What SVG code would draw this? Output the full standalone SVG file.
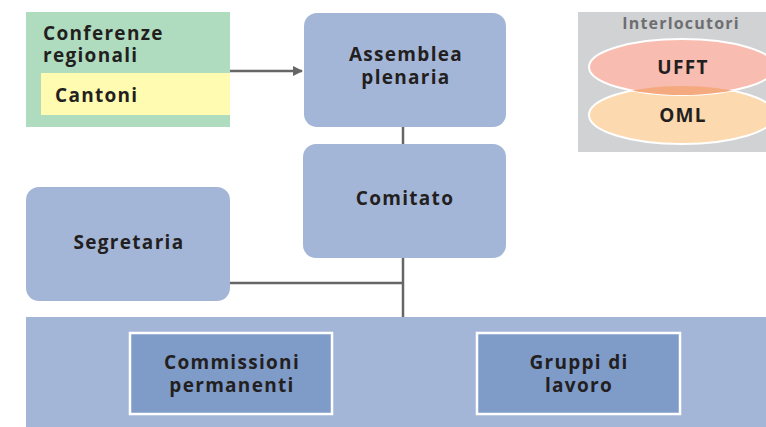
<svg xmlns="http://www.w3.org/2000/svg" width="766" height="427" viewBox="0 0 766 427">
<defs>
<style>
.t{font-family:"Open Sans","Noto Sans","DejaVu Sans",sans-serif;font-weight:bold;font-size:19px;letter-spacing:1.3px;fill:#231f20;}
.c{text-anchor:middle;}
.node{fill:#a4b6d7;}
.sub{fill:#7f9bc8;stroke:#ffffff;stroke-width:2.5;}
.ln{stroke:#666666;stroke-width:2.5;fill:none;}
</style>
<marker id="ah" markerWidth="10" markerHeight="10" refX="9" refY="5" orient="auto" markerUnits="userSpaceOnUse" viewBox="0 0 10 10">
<path d="M0,0 L10,5 L0,10 Z" fill="#666666"/>
</marker>
<clipPath id="omlclip"><ellipse cx="682" cy="115" rx="93" ry="29"/></clipPath>
</defs>
<rect width="766" height="427" fill="#ffffff"/>
<g id="connectors">
<line class="ln" x1="230" y1="71" x2="302" y2="71" marker-end="url(#ah)"/>
<line class="ln" x1="403" y1="127" x2="403" y2="144"/>
<line class="ln" x1="403" y1="258" x2="403" y2="318"/>
<line class="ln" x1="230" y1="283" x2="403" y2="283"/>
</g>
<g id="conferenze">
<rect x="26" y="12" width="204" height="115" fill="#afdbbf"/>
<text class="t" x="43" y="40">Conferenze</text>
<text class="t" x="43" y="62">regionali</text>
</g>
<g id="cantoni">
<rect x="41" y="73" width="189" height="42" fill="#fffbb0"/>
<text class="t" x="55" y="102">Cantoni</text>
</g>
<g id="assemblea">
<rect class="node" x="304" y="13" width="202" height="114" rx="13"/>
<text class="t c" x="406" y="61">Assemblea</text>
<text class="t c" x="406" y="84">plenaria</text>
</g>
<g id="comitato">
<rect class="node" x="303" y="144" width="203" height="114" rx="13"/>
<text class="t c" x="405" y="205">Comitato</text>
</g>
<g id="segretaria">
<rect class="node" x="26" y="187" width="204" height="114" rx="13"/>
<text class="t c" x="129" y="249">Segretaria</text>
</g>
<g id="base">
<rect class="node" x="26" y="317" width="740" height="110"/>
</g>
<g id="commissioni">
<rect class="sub" x="130" y="333" width="202" height="81"/>
<text class="t c" x="232" y="369">Commissioni</text>
<text class="t c" x="232" y="392">permanenti</text>
</g>
<g id="gruppi">
<rect class="sub" x="477" y="333" width="203" height="81"/>
<text class="t c" x="579" y="369">Gruppi di</text>
<text class="t c" x="579" y="392">lavoro</text>
</g>
<g id="interlocutori">
<rect x="578" y="12" width="188" height="140" fill="#d1d2d4"/>
<text class="t c" x="681" y="29" style="fill:#6d6e71;font-size:16px;letter-spacing:1.2px">Interlocutori</text>
<ellipse cx="682" cy="115" rx="93" ry="29" fill="#fcd9ae" stroke="#ffffff" stroke-width="2"/>
<ellipse cx="682" cy="67" rx="93" ry="28" fill="#f8bcb0" stroke="#ffffff" stroke-width="2"/>
<ellipse cx="682" cy="67" rx="93" ry="28" fill="#f5a97f" clip-path="url(#omlclip)"/>
<text class="t c" x="683" y="74">UFFT</text>
<text class="t c" x="683" y="122">OML</text>
</g>
</svg>
